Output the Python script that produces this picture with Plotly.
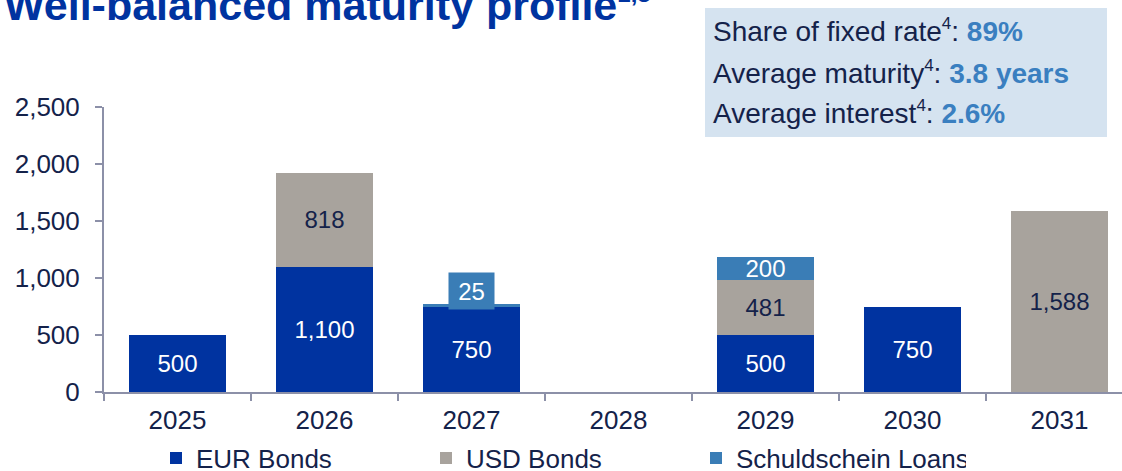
import plotly.graph_objects as go

years = ["2025", "2026", "2027", "2028", "2029", "2030", "2031"]
eur_bonds = [500, 1100, 750, 0, 500, 750, 0]
usd_bonds = [0, 818, 0, 0, 481, 0, 1588]
schuldschein = [0, 0, 25, 0, 200, 0, 0]
y_ticks = [0, 500, 1000, 1500, 2000, 2500]

C_EUR = "#0033A0"
C_USD = "#A8A39D"
C_SSD = "#3A7DB6"
NAVY = "#14224A"
AXIS = "#8C90A8"

W, H = 1122, 471
L, R, T, B = 104, 0, 107, 79
PW, PH = W - L - R, H - T - B


def px_x(px):
    return (px - L) / PW


def px_y(py):
    return (H - B - py) / PH


def vals(v):
    return [x if x else None for x in v]


def labels(v, small=None):
    out = []
    for x in v:
        if not x or (small is not None and x < small):
            out.append("")
        else:
            out.append(f"{x:,}")
    return out


fig = go.Figure()
fig.add_bar(name="EUR Bonds", x=years, y=vals(eur_bonds), marker_color=C_EUR,
            text=labels(eur_bonds), textposition="inside", insidetextanchor="middle",
            textfont=dict(color="white", size=24))
fig.add_bar(name="USD Bonds", x=years, y=vals(usd_bonds), marker_color=C_USD,
            text=labels(usd_bonds), textposition="inside", insidetextanchor="middle",
            textfont=dict(color=NAVY, size=24))
fig.add_bar(name="Schuldschein Loans", x=years, y=vals(schuldschein), marker_color=C_SSD,
            text=labels(schuldschein, small=100), textposition="inside", insidetextanchor="middle",
            textfont=dict(color="white", size=24))
fig.update_traces(marker_line_width=0, constraintext="none", cliponaxis=False)

# small Schuldschein value shown as boxed label above its stack
for i, v in enumerate(schuldschein):
    if v and v < 100:
        top = eur_bonds[i] + usd_bonds[i] + v
        fig.add_annotation(x=i, y=top, xref="x", yref="y", text=f"{v:,}",
                           showarrow=False, yanchor="bottom", yshift=-6,
                           bgcolor=C_SSD, width=43, height=34,
                           font=dict(color="white", size=24, family="Arial"))

# title
fig.add_annotation(xref="paper", yref="paper", x=px_x(2), y=px_y(4), xanchor="left",
                   yanchor="middle", showarrow=False,
                   text="<b>Well-balanced maturity profile<sup><span style='font-size:24px'>1,3</span></sup></b>",
                   font=dict(size=43, color=C_EUR, family="Arial"))

# info box
fig.add_shape(type="rect", xref="paper", yref="paper", x0=px_x(705), x1=px_x(1107),
              y0=px_y(137), y1=px_y(8), fillcolor="#D5E3F0", line_width=0, layer="below")
info = [
    ("Share of fixed rate", "89%", 30),
    ("Average maturity", "3.8 years", 72),
    ("Average interest", "2.6%", 113),
]
for lab, val, py in info:
    fig.add_annotation(xref="paper", yref="paper", x=px_x(711), y=px_y(py), xanchor="left",
                       yanchor="middle", showarrow=False,
                       text=(f"{lab}<sup><span style='font-size:17px'>4</span></sup>: "
                             f"<b><span style='color:#3A7FC0'>{val}</span></b>"),
                       font=dict(size=28, color=NAVY, family="Arial"))

fig.update_layout(
    width=W, height=H, barmode="stack", bargap=0.34,
    margin=dict(l=L, r=R, t=T, b=B, autoexpand=False),
    plot_bgcolor="white", paper_bgcolor="white",
    font=dict(family="Arial", color=NAVY, size=26),
    showlegend=True,
    legend=dict(orientation="h", x=px_x(156), y=px_y(458), xanchor="left", yanchor="middle",
                font=dict(size=26, color=NAVY), entrywidth=225, itemwidth=30,
                traceorder="normal", bgcolor="rgba(0,0,0,0)"),
    xaxis=dict(type="category", range=[-0.5, -0.5 + PW / 147], showline=True, linecolor=AXIS,
               linewidth=2, ticks="outside", tickson="boundaries", ticklen=7, tickcolor=AXIS,
               tickwidth=2, showgrid=False, tickfont=dict(size=26, color=NAVY),
               ticklabelstandoff=4),
    yaxis=dict(range=[0, 2500], tickvals=y_ticks, tickformat=",", showline=True, linecolor=AXIS,
               linewidth=2, ticks="outside", ticklen=7, tickcolor=AXIS, tickwidth=2,
               showgrid=False, zeroline=False, tickfont=dict(size=26, color=NAVY),
               ticklabelstandoff=10),
)

fig.write_html("out.html", config={"displayModeBar": False},
               post_script="document.body.style.margin='0';")
